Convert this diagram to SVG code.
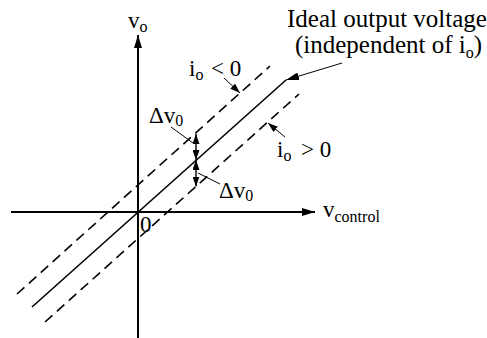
<svg xmlns="http://www.w3.org/2000/svg" width="487" height="338" viewBox="0 0 487 338">
<style>
  text { font-family: "Liberation Serif", "Times New Roman", serif; fill: #000; }
  .lbl { font-size: 23px; }
  .big { font-size: 25px; }
  .sub { font-size: 16px; }
  .axis { stroke: #000; stroke-width: 2; fill: none; }
  .solid { stroke: #000; stroke-width: 1.6; fill: none; }
  .dash { stroke: #000; stroke-width: 1.6; fill: none; stroke-dasharray: 10 6; }
  .lead { stroke: #000; stroke-width: 1; fill: none; }
  .dv { stroke: #000; stroke-width: 1.4; fill: none; }
</style>
<defs>
  <marker id="axh" viewBox="0 0 13 8" refX="13" refY="4" markerWidth="13" markerHeight="8" orient="auto" markerUnits="userSpaceOnUse"><path d="M0,0 L13,4 L0,8 z" fill="#000"/></marker>
  <marker id="sh" viewBox="0 0 10 7" refX="10" refY="3.5" markerWidth="10" markerHeight="7" orient="auto-start-reverse" markerUnits="userSpaceOnUse"><path d="M0,0 L10,3.5 L0,7 z" fill="#000"/></marker>
  <marker id="lh" viewBox="0 0 13 8" refX="13" refY="4" markerWidth="13" markerHeight="8" orient="auto" markerUnits="userSpaceOnUse"><path d="M0,0 L13,4 L0,8 z" fill="#000"/></marker>
</defs>
<rect width="487" height="338" fill="#fff"/>
<g id="axes">
  <line class="axis" x1="138" y1="338" x2="138" y2="35" marker-end="url(#axh)"/>
  <line class="axis" x1="11" y1="212" x2="315" y2="212" marker-end="url(#axh)"/>
</g>
<g id="curves">
  <line class="solid" x1="32" y1="307" x2="286" y2="80"/>
  <line class="dash" x1="17" y1="294" x2="270" y2="66"/>
  <line class="dash" x1="45" y1="322" x2="299" y2="94"/>
</g>
<g id="connectors">
  <line class="lead" x1="342" y1="63" x2="286" y2="80" marker-end="url(#lh)"/>
  <line class="lead" x1="224" y1="78" x2="240" y2="93" marker-end="url(#sh)"/>
  <line class="lead" x1="285" y1="137" x2="268" y2="123" marker-end="url(#sh)"/>
  <line class="lead" x1="171" y1="127" x2="193" y2="143"/>
  <line class="lead" x1="198" y1="173" x2="220" y2="184"/>
  <line class="dv" x1="196" y1="134" x2="196" y2="160" marker-start="url(#sh)" marker-end="url(#sh)"/>
  <line class="dv" x1="196" y1="160" x2="196" y2="186.5" marker-start="url(#sh)" marker-end="url(#sh)"/>
</g>
<g id="labels">
  <text class="lbl" x="128" y="28">v<tspan class="sub" dy="4">o</tspan></text>
  <text class="lbl" x="323" y="217">v<tspan class="sub" dy="5">control</tspan></text>
  <text class="lbl" x="140" y="232">0</text>
  <text class="big" x="287" y="27">Ideal output voltage</text>
  <text class="big" x="295" y="53">(independent of i<tspan class="sub" dy="5">o</tspan><tspan dy="-5">)</tspan></text>
  <text class="lbl" x="189" y="76">i<tspan class="sub" dy="4">o</tspan><tspan x="211" dy="-4">&lt; 0</tspan></text>
  <text class="lbl" x="277" y="157">i<tspan class="sub" dy="4">o</tspan><tspan x="301" dy="-4">&gt; 0</tspan></text>
  <text class="lbl" x="149" y="123">Δv<tspan class="sub" dy="3">0</tspan></text>
  <text class="lbl" x="219" y="198">Δv<tspan class="sub" dy="3">0</tspan></text>
</g>
</svg>
